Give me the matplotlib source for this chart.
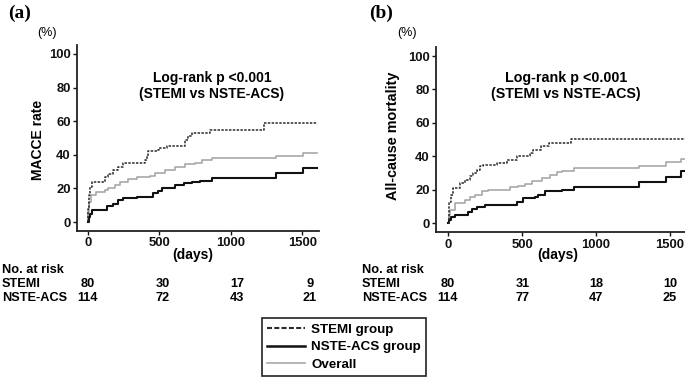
import matplotlib
matplotlib.use("Agg")
import matplotlib.pyplot as plt
from matplotlib.lines import Line2D
from matplotlib import font_manager

# ---------------- data ----------------
ticks_x = [0, 500, 1000, 1500]
ticks_y = [0, 20, 40, 60, 80, 100]

# Panel (a) MACCE rate (%)
a_stemi_t = [0, 3, 8, 15, 26, 119, 142, 177, 212, 247, 399, 410, 422, 480, 500, 550, 679, 700, 725, 854, 1232, 1600]
a_stemi_v = [0, 8, 16, 21, 24, 27, 28.4, 31, 33, 35, 37, 39, 42, 43, 44, 45, 49, 51, 53, 55, 59, 59]
a_nste_t = [0, 5, 12, 25, 130, 177, 212, 247, 340, 457, 490, 520, 609, 670, 725, 784, 866, 1316, 1507, 1600]
a_nste_v = [0, 3, 5, 7, 9.5, 11, 13, 14, 15, 17, 18.6, 20, 22, 23.4, 24, 24.6, 26.4, 29.3, 32.3, 32.3]
a_all_t = [0, 3, 8, 20, 55, 119, 142, 189, 224, 282, 340, 433, 468, 538, 608, 678, 748, 795, 866, 1316, 1507, 1600]
a_all_v = [0, 6, 12, 16, 18, 19, 20, 22, 24, 25.6, 26.6, 27.4, 29, 31, 33, 34.3, 35.3, 36.9, 37.9, 39.3, 41.3, 41.3]

# Panel (b) All-cause mortality (%)
b_stemi_t = [0, 3, 8, 20, 34, 79, 113, 147, 169, 192, 214, 237, 327, 395, 462, 553, 575, 630, 680, 830, 1600]
b_stemi_v = [0, 7, 13, 17, 21, 24, 26, 28, 30, 32, 34, 35, 36, 38, 40, 42, 44, 46, 48, 50.4, 50.4]
b_nste_t = [0, 5, 20, 45, 135, 158, 192, 248, 462, 507, 586, 609, 654, 767, 853, 1290, 1471, 1574, 1600]
b_nste_v = [0, 2, 4, 5, 7, 8.4, 10, 11, 13, 15, 16, 17, 19, 20, 21.6, 24.6, 27.4, 31, 31]
b_all_t = [0, 3, 10, 45, 113, 150, 180, 226, 271, 417, 473, 519, 564, 631, 688, 733, 767, 853, 1290, 1471, 1574, 1600]
b_all_v = [0, 5, 8, 12, 14, 15.6, 17, 19, 20, 21.6, 22.4, 23.6, 25, 27, 29, 30.4, 31.3, 33, 34.5, 36.4, 38.4, 38.4]

risk_labels = ["STEMI", "NSTE-ACS"]
a_risk_stemi = [80, 30, 17, 9]
a_risk_nste = [114, 72, 43, 21]
b_risk_stemi = [80, 31, 18, 10]
b_risk_nste = [114, 77, 47, 25]

legend_labels = ["STEMI group", "NSTE-ACS group", "Overall"]
panel_tags = ["(a)", "(b)"]
ylabels = ["MACCE rate", "All-cause mortality"]
logrank_text = "Log-rank p <0.001\n(STEMI vs NSTE-ACS)"

# ---------------- style ----------------
avail = {f.name for f in font_manager.fontManager.ttflist}
SANS = "Liberation Sans" if "Liberation Sans" in avail else "DejaVu Sans"
SERIF = "Liberation Serif" if "Liberation Serif" in avail else "DejaVu Serif"
plt.rcParams["font.family"] = SANS

W, H = 685, 379
fig = plt.figure(figsize=(W / 100, H / 100), dpi=100)


def fx(x):
    return x / W


def fy(y):
    return 1 - y / H


def add_axes_px(left, right, top, bottom):
    return fig.add_axes([fx(left), fy(bottom), (right - left) / W, (bottom - top) / H])


C_STEMI = "#2a2a2a"
C_NSTE = "#111111"
C_ALL = "#a8a8a8"

axes_specs = [
    # left px, right px, top px, bottom px, xlim
    (77, 319, 44.9, 231.1, (-77, 1617)),
    (436.0, 684.8, 47.0, 232.3, (-83, 1600)),
]
data = [
    (a_stemi_t, a_stemi_v, a_nste_t, a_nste_v, a_all_t, a_all_v),
    (b_stemi_t, b_stemi_v, b_nste_t, b_nste_v, b_all_t, b_all_v),
]

for i, (spec, d) in enumerate(zip(axes_specs, data)):
    l, r, t, b, xl = spec
    ax = add_axes_px(l, r, t, b)
    st, sv, nt, nv, at, av = d
    ax.step(at, av, where="post", color=C_ALL, lw=1.2, zorder=2)
    ax.step(nt, nv, where="post", color=C_NSTE, lw=1.5, zorder=3)
    ax.step(st, sv, where="post", color=C_STEMI, lw=1.1, linestyle=(0, (1.6, 0.9)), zorder=4)
    ax.set_xlim(*xl)
    ax.set_ylim(-5.4, 105.4)
    ax.set_xticks(ticks_x)
    ax.set_yticks(ticks_y)
    for s in ["top", "right"]:
        ax.spines[s].set_visible(False)
    for s in ["left", "bottom"]:
        ax.spines[s].set_linewidth(1.3)
        ax.spines[s].set_color("#222222")
    ax.tick_params(direction="out", length=3, width=1, pad=1.5, labelsize=9.4, colors="#111111")
    for lab in ax.get_xticklabels() + ax.get_yticklabels():
        lab.set_fontweight("bold")
    ax.patch.set_alpha(0)

# panel tags
fig.text(fx(20), fy(13), panel_tags[0], family=SERIF, fontweight="bold", fontsize=14, ha="center", va="center")
fig.text(fx(381), fy(13), panel_tags[1], family=SERIF, fontweight="bold", fontsize=14, ha="center", va="center")
# (%)
fig.text(fx(47), fy(33), "(%)", fontsize=9, ha="center", va="center")
fig.text(fx(407), fy(33), "(%)", fontsize=9, ha="center", va="center")
# y labels
fig.text(fx(38), fy(140), ylabels[0], fontsize=10, fontweight="bold", rotation=90, ha="center", va="center")
fig.text(fx(393), fy(136), ylabels[1], fontsize=10.4, fontweight="bold", rotation=90, ha="center", va="center")
# log-rank
fig.text(fx(212), fy(86), logrank_text, fontsize=10, fontweight="bold", ha="center", va="center", linespacing=1.15)
fig.text(fx(566), fy(86), logrank_text, fontsize=10.3, fontweight="bold", ha="center", va="center", linespacing=1.15)
# (days)
fig.text(fx(193), fy(255), "(days)", fontsize=10, fontweight="bold", ha="center", va="center")
fig.text(fx(558), fy(255), "(days)", fontsize=10, fontweight="bold", ha="center", va="center")

# number at risk
risk_fs = 9.2
rows_y = [284, 298]
for x0, xs, rs, rn in [
    (2, [88, 163, 237, 310], a_risk_stemi, a_risk_nste),
    (362, [448, 523, 596, 670], b_risk_stemi, b_risk_nste),
]:
    fig.text(fx(x0), fy(270), "No. at risk", fontsize=risk_fs, fontweight="bold", ha="left", va="center")
    for lab, yy, vals in zip(risk_labels, rows_y, [rs, rn]):
        fig.text(fx(x0), fy(yy), lab, fontsize=risk_fs, fontweight="bold", ha="left", va="center")
        for xx, v in zip(xs, vals):
            fig.text(fx(xx), fy(yy), str(v), fontsize=risk_fs, fontweight="bold", ha="center", va="center")

# legend
handles = [
    Line2D([], [], color=C_STEMI, lw=1.5, linestyle=(0, (2.4, 1.1))),
    Line2D([], [], color=C_NSTE, lw=1.8),
    Line2D([], [], color=C_ALL, lw=1.2),
]
leg = fig.legend(handles, legend_labels, loc="upper left", bbox_to_anchor=(fx(262), fy(318)),
                 borderaxespad=0, frameon=True, fancybox=False, framealpha=1, edgecolor="#222222",
                 prop={"family": SANS, "weight": "bold", "size": 9.6},
                 handlelength=2.8, handletextpad=0.5, labelspacing=0.4, borderpad=0.4)
leg.get_frame().set_linewidth(1.2)

fig.savefig("out.png", dpi=100)
